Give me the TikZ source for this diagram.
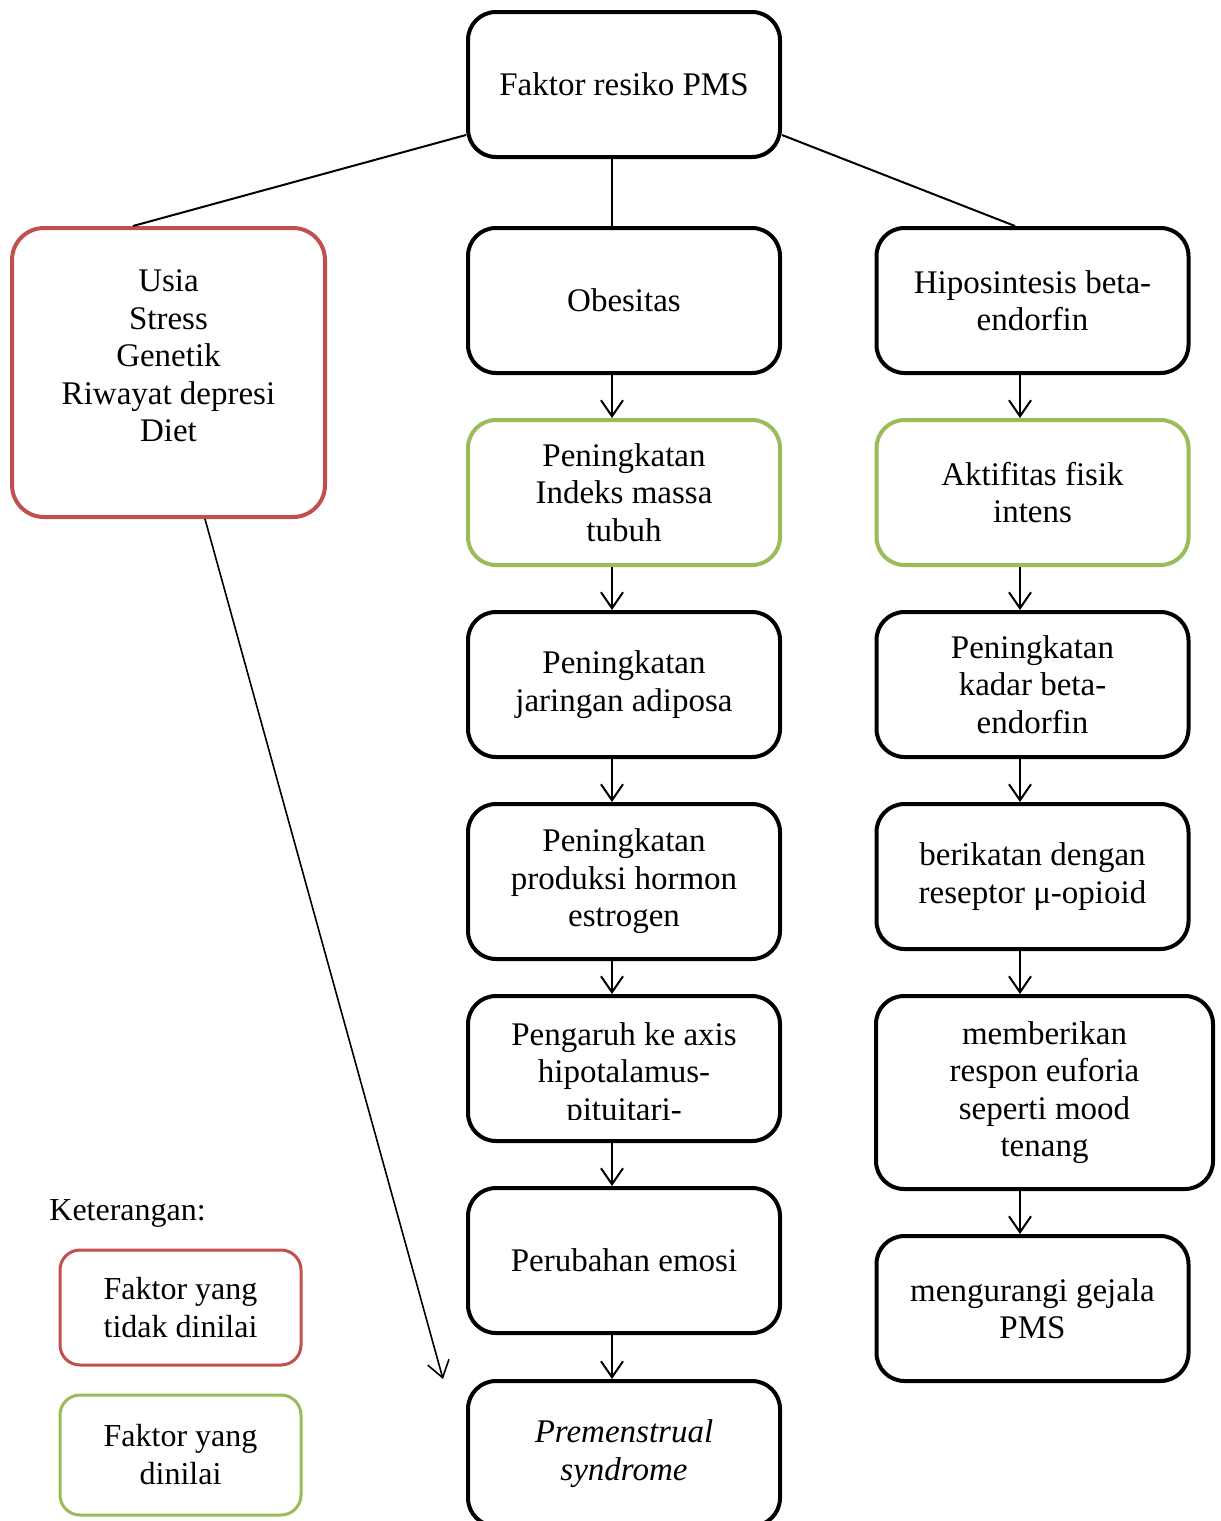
\documentclass[tikz,border=0pt]{standalone}
\usepackage{fontspec}
\setmainfont{Liberation Serif}
\usetikzlibrary{arrows.meta}
\definecolor{faktorred}{RGB}{192,80,77}
\definecolor{faktorgreen}{RGB}{155,187,89}
\begin{document}
\begin{tikzpicture}[
x=0.5pt, y=-0.5pt,
every node/.style={font=\fontsize{16.5}{18.75}\selectfont, align=center, inner sep=2pt},
box/.style={draw, line width=2pt, rounded corners=14pt, minimum width=156pt, minimum height=72.5pt},
redbox/.style={box, draw=faktorred},
greenbox/.style={box, draw=faktorgreen},
keybox/.style={draw, line width=1.5pt, rounded corners=10pt, minimum width=120.5pt, font=\fontsize{16}{19}\selectfont},
link/.style={line width=1pt},
arr/.style={link, -{Straight Barb[length=8pt,width=11pt]}}
]
\useasboundingbox (0,0) rectangle (1221,1521);

\node[box] (root) at (624,84.5) {Faktor resiko PMS};

\node[redbox, minimum width=156.5pt, minimum height=144.5pt, rounded corners=16pt] (usia) at (168.5,372.5) {};
\node (usiatxt) at (168.5,356) {Usia\\Stress\\Genetik\\Riwayat depresi\\Diet};

\node[box] (obes) at (624,300.5) {Obesitas};
\node[greenbox] (imt) at (624,492.5) {Peningkatan\\Indeks massa\\tubuh};
\node[box] (adiposa) at (624,684.5) {Peningkatan\\jaringan adiposa};
\node[box, minimum height=77.5pt] (estrogen) at (624,881.5) {Peningkatan\\produksi hormon\\estrogen};
\node[box] (axis) at (624,1068.5) {};
\begin{scope}
\clip (470,998) rectangle (778,1119);
\node (axistxt) at (624,1075) {Pengaruh ke axis\\hipotalamus-\\pituitari-};
\end{scope}
\node[box] (emosi) at (624,1260.5) {Perubahan emosi};
\node[box] (pms) at (624,1453.5) {\textit{Premenstrual}\\\textit{syndrome}};

\node[box] (hipo) at (1032.5,300.5) {Hiposintesis beta-\\endorfin};
\node[greenbox] (aktif) at (1032.5,492.5) {Aktifitas fisik\\intens};
\node[box] (kadar) at (1032.5,684.5) {Peningkatan\\kadar beta-\\endorfin};
\node[box] (ikat) at (1032.5,876.5) {berikatan dengan\\reseptor μ-opioid};
\node[box, minimum width=168.5pt, minimum height=96.5pt] (euforia) at (1044.5,1092.5) {memberikan\\respon euforia\\seperti mood\\tenang};
\node[box] (gejala) at (1032.5,1308.5) {mengurangi gejala\\PMS};

\node[anchor=west, font=\fontsize{16}{19}\selectfont] (ket) at (45,1213) {Keterangan:};
\node[keybox, draw=faktorred, minimum height=57.5pt] (keyred) at (180.5,1307.5) {Faktor yang\\tidak dinilai};
\node[keybox, draw=faktorgreen, minimum height=60pt] (keygreen) at (180.5,1455) {Faktor yang\\dinilai};

\draw[link] ([yshift=12pt]root.south west) -- ([xshift=-17.75pt]usia.north);
\draw[link] ([xshift=-6pt]root.south) -- ([xshift=-6pt]root.south |- obes.north);
\draw[link] ([yshift=12pt]root.south east) -- ([xshift=-8.75pt]hipo.north);

\foreach \a/\b in {obes/imt, imt/adiposa, adiposa/estrogen, estrogen/axis, axis/emosi, emosi/pms}
  \draw[arr] ([xshift=-6pt]\a.south) -- ([xshift=-6pt]\a.south |- \b.north);
\foreach \a/\b in {hipo/aktif, aktif/kadar, kadar/ikat, ikat/euforia, euforia/gejala}
  \draw[arr] ([xshift=-6.25pt]hipo.south |- \a.south) -- ([xshift=-6.25pt]hipo.south |- \b.north);

\draw[arr, line width=0.8pt] ([xshift=18.25pt]usia.south) -- ([xshift=-11.5pt]pms.north west);
\end{tikzpicture}
\end{document}
